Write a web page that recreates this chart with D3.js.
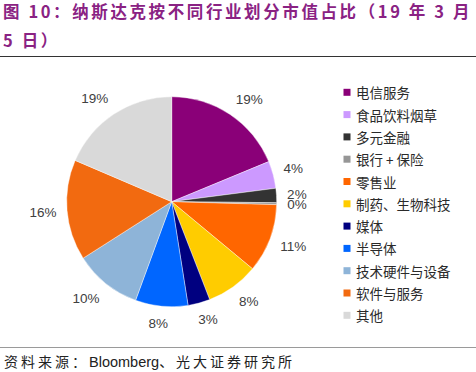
<!DOCTYPE html>
<html><head><meta charset="utf-8">
<script src="https://cdn.jsdelivr.net/npm/d3@7"></script>
<style>
html,body{margin:0;padding:0;background:#fff;}
svg{display:block;}
</style></head>
<body>
<script>
const categories = ["电信服务","食品饮料烟草","多元金融","银行 + 保险","零售业","制药、生物科技","媒体","半导体","技术硬件与设备","软件与服务","其他"];
const values = [18.8, 4.2, 2.2, 0.3, 10.6, 8.1, 3.4, 8.1, 10.4, 15.5, 18.6];
const colors = ["#8a0078","#cc99ff","#333333","#969696","#ff6600","#ffcc00","#000080","#0066ff","#8eb4d8","#f26a10","#d9d9d9"];
const titleLines = ["图 10：纳斯达克按不同行业划分市值占比（19 年 3 月","5 日）"];
const sourceText = ["资料来源：","Bloomberg","、光大证券研究所"];

const W = 476, H = 372;
const svg = d3.select("body").append("svg").attr("width", W).attr("height", H);

// Title
const title = svg.append("g").attr("font-family", "'Noto Sans CJK SC', sans-serif")
  .attr("font-weight", "bold").attr("fill", "#8a2283").attr("font-size", 16.5);
title.append("text").attr("x", 3).attr("y", 18).attr("letter-spacing", 2.6).text(titleLines[0]);
title.append("text").attr("x", 3).attr("y", 47).attr("letter-spacing", 2.6).text(titleLines[1]);
svg.append("line").attr("x1", 0).attr("x2", W).attr("y1", 56.5).attr("y2", 56.5)
  .attr("stroke", "#333").attr("stroke-width", 1.2);

// Pie
const cx = 171.7, cy = 201.7, r = 105;
const pie = d3.pie().sort(null).value(d => d)(values);
const arc = d3.arc().innerRadius(0).outerRadius(r);
const g = svg.append("g").attr("transform", `translate(${cx},${cy})`);
g.selectAll("path").data(pie).join("path")
  .attr("d", arc).attr("fill", (d, i) => colors[i])
  .attr("stroke", "#fff").attr("stroke-width", 0.4);

const clamp = v => Math.max(-1, Math.min(1, v));
const lbl = g.append("g").attr("font-family", "'Liberation Sans', Arial, sans-serif")
  .attr("font-size", 13.5).attr("fill", "#404040");
pie.forEach((d) => {
  const a = (d.startAngle + d.endAngle) / 2;
  const s = Math.sin(a), c = Math.cos(a);
  const txt = Math.round(d.value) + "%";
  const w = txt.length * 7.4 + 4, h = 12;
  const R = 116;
  const x = R * s + (w / 2) * clamp(s * 2.5);
  const y = -R * c - (h / 2) * clamp(c * 2);
  lbl.append("text").attr("x", x).attr("y", y).attr("text-anchor", "middle")
    .attr("dominant-baseline", "central").text(txt);
});

// Legend
const leg = svg.append("g").attr("font-family", "'Noto Sans CJK SC', sans-serif")
  .attr("font-size", 13.5).attr("fill", "#2a2a2a");
const y0 = 92.3, dy = 22.3;
categories.forEach((name, i) => {
  const y = y0 + i * dy;
  leg.append("rect").attr("x", 343.5).attr("y", y - 3.5).attr("width", 7).attr("height", 7).attr("fill", colors[i]);
  leg.append("text").attr("x", 356).attr("y", y).attr("dominant-baseline", "central").text(name);
});

// Source
svg.append("line").attr("x1", 0).attr("x2", W).attr("y1", 347.5).attr("y2", 347.5)
  .attr("stroke", "#9a9a9a").attr("stroke-width", 1);
const src = svg.append("text").attr("x", 4).attr("y", 367).attr("font-size", 14).attr("fill", "#222");
src.append("tspan").attr("font-family", "'Noto Sans CJK SC', serif").attr("letter-spacing", 3).text(sourceText[0]);
src.append("tspan").attr("font-family", "'Liberation Sans', Arial, sans-serif").attr("font-size", 14.5).text(sourceText[1]);
src.append("tspan").attr("font-family", "'Noto Sans CJK SC', serif").attr("letter-spacing", 3).text(sourceText[2]);
</script>
</body></html>
